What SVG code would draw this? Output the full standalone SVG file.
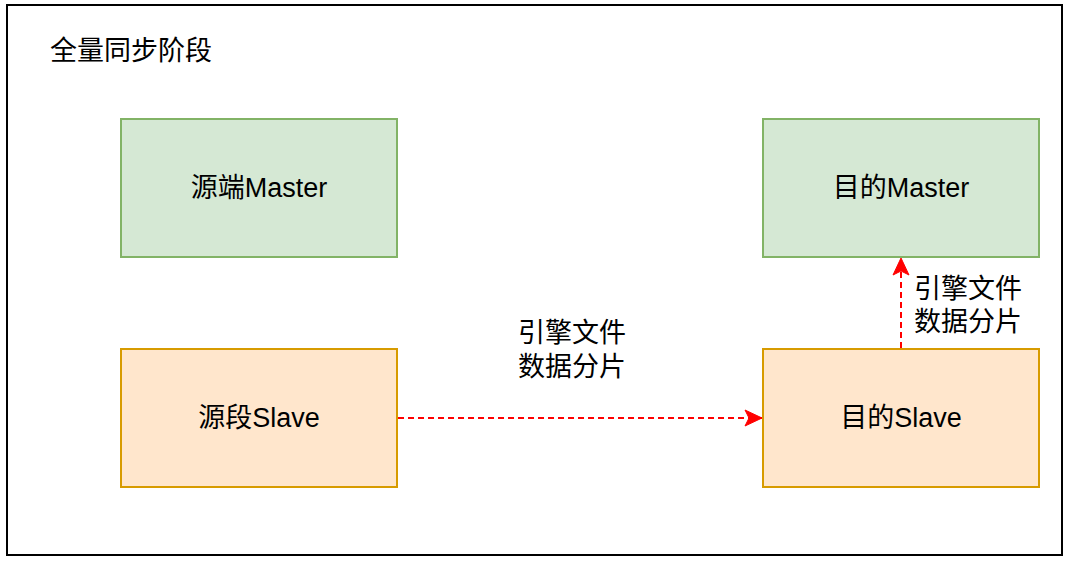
<svg xmlns="http://www.w3.org/2000/svg" width="1074" height="564" viewBox="0 0 1074 564">
<style>
text{font-family:"Liberation Sans","Noto Sans CJK SC",sans-serif;font-size:27px;fill:#000}
.mid{text-anchor:middle;dominant-baseline:central}
.green{fill:#d5e8d4;stroke:#82b366;stroke-width:2}
.orange{fill:#ffe6cc;stroke:#d79b00;stroke-width:2}
.edge{fill:none;stroke:#ff0000;stroke-width:2;stroke-dasharray:6 4}
</style>
<defs>
<marker id="arr" markerUnits="userSpaceOnUse" markerWidth="20" markerHeight="20" viewBox="0 0 20 20" refX="18" refY="10" orient="auto">
<path d="M1,2 L18,10 L1,18 L5,10 Z" fill="#ff0000" stroke="#ff0000" stroke-width="1"/>
</marker>
</defs>
<rect width="1074" height="564" fill="#fff"/>
<g id="frame">
<rect x="7" y="5" width="1055" height="550" fill="none" stroke="#000" stroke-width="2"/>
<text x="50" y="51" dominant-baseline="central">全量同步阶段</text>
</g>
<g id="src-master">
<rect class="green" x="121" y="119" width="276" height="138"/>
<text class="mid" x="259" y="188">源端Master</text>
</g>
<g id="dst-master">
<rect class="green" x="763" y="119" width="276" height="138"/>
<text class="mid" x="901" y="188">目的Master</text>
</g>
<g id="src-slave">
<rect class="orange" x="121" y="349" width="276" height="138"/>
<text class="mid" x="259" y="418">源段Slave</text>
</g>
<g id="dst-slave">
<rect class="orange" x="763" y="349" width="276" height="138"/>
<text class="mid" x="901" y="418">目的Slave</text>
</g>
<g id="connectors">
<path class="edge" d="M398,418 L762,418" marker-end="url(#arr)"/>
<path class="edge" d="M901,348 L901,258" marker-end="url(#arr)"/>
<text class="mid" x="572" y="333">引擎文件</text>
<text class="mid" x="572" y="367">数据分片</text>
<text x="914" y="289" dominant-baseline="central">引擎文件</text>
<text x="914" y="322" dominant-baseline="central">数据分片</text>
</g>
</svg>
